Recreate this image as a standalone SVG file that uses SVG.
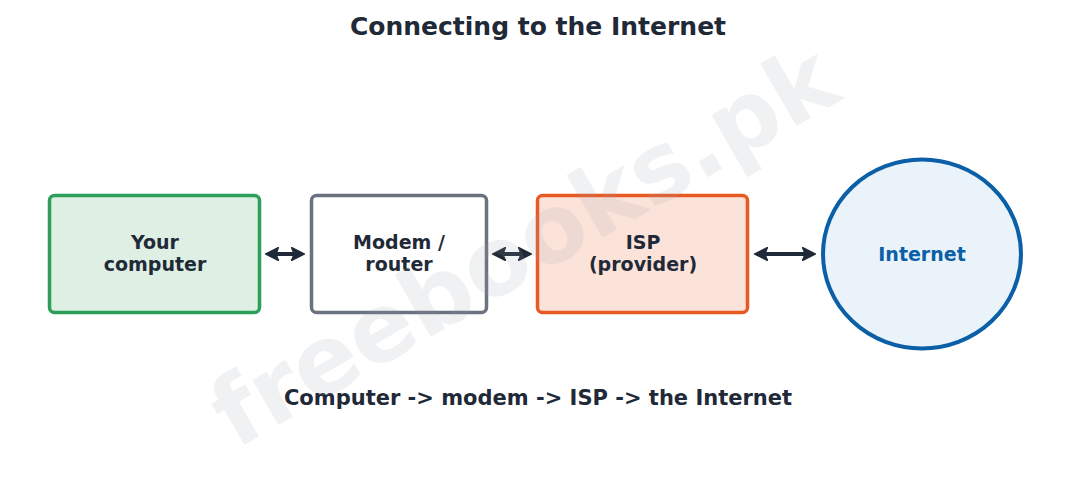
<svg xmlns="http://www.w3.org/2000/svg" width="1076" height="477" viewBox="0 0 1076 477">
<defs>
<style>
.t{font-family:"DejaVu Sans","Liberation Sans",sans-serif;font-weight:bold;text-anchor:middle;fill:#1f2937}
.lbl{font-size:19px}
.conn line{stroke:#1f2937;stroke-width:4;fill:none}
</style>
<marker id="ah" viewBox="0 0 10 10" refX="8" refY="5" markerWidth="3.3" markerHeight="3.3" orient="auto-start-reverse" markerUnits="strokeWidth">
<path d="M0,0 L10,5 L0,10 L2,5 z" fill="#1f2937" stroke="#1f2937" stroke-width="1" stroke-linejoin="round"/>
</marker>
</defs>
<rect width="1076" height="477" fill="#ffffff"/>
<text class="t" x="538" y="35" font-size="25">Connecting to the Internet</text>
<g id="node-computer">
<rect x="49.5" y="195.5" width="210" height="117" rx="5" fill="#deefe3" stroke="#2e9e5b" stroke-width="3.5"/>
<text class="t lbl" x="155" y="249">Your</text>
<text class="t lbl" x="155" y="271">computer</text>
</g>
<g id="node-modem">
<rect x="311.5" y="195.5" width="175" height="117" rx="5" fill="#ffffff" stroke="#6b7280" stroke-width="3.5"/>
<text class="t lbl" x="399" y="249">Modem /</text>
<text class="t lbl" x="399" y="271">router</text>
</g>
<g id="node-isp">
<rect x="537.5" y="195.5" width="210" height="117" rx="5" fill="#fce3d9" stroke="#e85a24" stroke-width="3.5"/>
<text class="t lbl" x="643" y="249">ISP</text>
<text class="t lbl" x="643" y="271">(provider)</text>
</g>
<g id="node-internet">
<ellipse cx="922" cy="254" rx="99" ry="94.5" fill="#eaf2fa" stroke="#0a5fa6" stroke-width="4"/>
<text class="t lbl" x="922" y="261" style="fill:#0a5fa6">Internet</text>
</g>
<g id="connectors" class="conn">
<line x1="268" y1="254" x2="302" y2="254" marker-start="url(#ah)" marker-end="url(#ah)"/>
<line x1="495" y1="254" x2="529" y2="254" marker-start="url(#ah)" marker-end="url(#ah)"/>
<line x1="757" y1="254" x2="813" y2="254" marker-start="url(#ah)" marker-end="url(#ah)"/>
</g>
<text class="t" x="538" y="405" font-size="21">Computer -&gt; modem -&gt; ISP -&gt; the Internet</text>
<text class="t" x="0" y="0" font-size="95" transform="translate(540,274) rotate(-30)" style="fill:#9ca3af;opacity:0.14">freebooks.pk</text>
</svg>
